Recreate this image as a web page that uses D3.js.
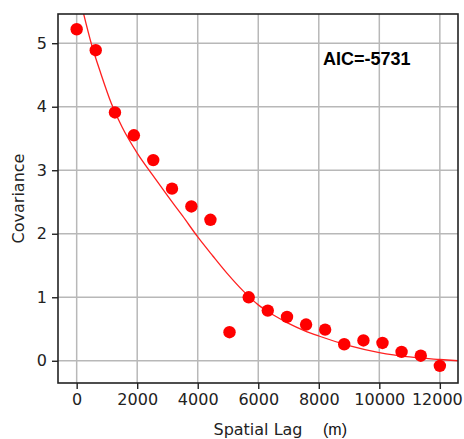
<!DOCTYPE html>
<html>
<head>
<meta charset="utf-8">
<script src="https://cdn.jsdelivr.net/npm/d3@7"></script>
<style>
  html, body { margin: 0; padding: 0; background: #fff; }
  svg { display: block; }
</style>
</head>
<body>
<svg id="chart" width="464" height="439"></svg>
<script>
// Empirical covariance points (spatial lag in m, covariance)
const lags = [0, 630, 1265, 1890, 2530, 3150, 3790, 4420, 5050, 5685,
              6315, 6950, 7580, 8210, 8840, 9475, 10105, 10735, 11370, 12000];
const covs = [5.22, 4.89, 3.91, 3.55, 3.16, 2.71, 2.43, 2.22, 0.45, 1.00,
              0.79, 0.69, 0.57, 0.49, 0.26, 0.32, 0.28, 0.14, 0.08, -0.08];

// Fitted model curve
const fitLags = [200, 480, 800, 1140, 1500, 2000, 2500, 3000, 3500, 4000, 4500, 5000,
                 5500, 6000, 6500, 7000, 7500, 8000, 9000, 10000, 11000, 12000, 12600];
const fitCovs = [5.52, 5.00, 4.52, 4.06, 3.68, 3.27, 2.93, 2.60, 2.28, 1.95, 1.65, 1.36,
                 1.10, 0.88, 0.72, 0.59, 0.48, 0.39, 0.24, 0.13, 0.06, 0.02, 0.00];

const xTicks = [0, 2000, 4000, 6000, 8000, 10000, 12000];
const yTicks = [0, 1, 2, 3, 4, 5];
const annotation = "AIC=-5731";

const svg = d3.select("#chart");
const L = 58, R = 458, T = 14, B = 383;

const x = d3.scaleLinear().domain([-617, 12600]).range([L, R]);
const y = d3.scaleLinear().domain([-0.35, 5.46]).range([B, T]);

svg.append("defs").append("clipPath").attr("id", "clip")
  .append("rect").attr("x", L).attr("y", T).attr("width", R - L).attr("height", B - T);

// grid
const grid = svg.append("g");
grid.selectAll(".gx").data(xTicks).enter().append("line")
  .attr("x1", d => x(d)).attr("x2", d => x(d)).attr("y1", T).attr("y2", B)
  .attr("stroke", "#b8b8b8").attr("stroke-width", 1.5);
grid.selectAll(".gy").data(yTicks).enter().append("line")
  .attr("y1", d => y(d)).attr("y2", d => y(d)).attr("x1", L).attr("x2", R)
  .attr("stroke", "#b8b8b8").attr("stroke-width", 1.5);

// fitted curve
const line = d3.line().x((d, i) => x(fitLags[i])).y(d => y(d)).curve(d3.curveMonotoneX);
svg.append("path").datum(fitCovs)
  .attr("clip-path", "url(#clip)")
  .attr("d", line).attr("fill", "none").attr("stroke", "#ff2020").attr("stroke-width", 1.3);

// points
svg.append("g").attr("clip-path", "url(#clip)")
  .selectAll("circle").data(covs).enter().append("circle")
  .attr("cx", (d, i) => x(lags[i])).attr("cy", d => y(d)).attr("r", 6.2)
  .attr("fill", "#ff0000");

// axes
const xAxis = d3.axisBottom(x).tickValues(xTicks).tickSize(6).tickPadding(5).tickFormat(d3.format("d"));
const yAxis = d3.axisLeft(y).tickValues(yTicks).tickSize(6).tickPadding(5).tickFormat(d3.format("d"));

const gx = svg.append("g").attr("transform", `translate(0,${B})`).call(xAxis);
const gy = svg.append("g").attr("transform", `translate(${L},0)`).call(yAxis);
[gx, gy].forEach(g => {
  g.select(".domain").remove();
  g.selectAll(".tick line").attr("stroke", "#222").attr("stroke-width", 1.4);
  g.selectAll(".tick text").attr("fill", "#222")
    .style("font-family", "'DejaVu Sans', sans-serif").style("font-size", "16px");
});
// keep the last x tick label inside the window
gx.selectAll(".tick text").filter(d => d === 12000).attr("dx", "-3");

// frame
svg.append("rect").attr("x", L).attr("y", T).attr("width", R - L).attr("height", B - T)
  .attr("fill", "none").attr("stroke", "#222").attr("stroke-width", 1.6);

// labels
svg.append("text").attr("x", 258).attr("y", 435).attr("text-anchor", "middle")
  .style("font-family", "'DejaVu Sans', sans-serif").style("font-size", "16px").attr("fill", "#222")
  .text("Spatial Lag");
svg.append("text").attr("x", 335).attr("y", 435).attr("text-anchor", "middle")
  .style("font-family", "'Liberation Sans', Arial, sans-serif").style("font-size", "16px").attr("fill", "#111")
  .text("(m)");
svg.append("text").attr("transform", "translate(24,198.5) rotate(-90)").attr("text-anchor", "middle")
  .style("font-family", "'DejaVu Sans', sans-serif").style("font-size", "16px").attr("fill", "#222")
  .text("Covariance");
svg.append("text").attr("x", 323).attr("y", 65)
  .style("font-family", "'Liberation Sans', Arial, sans-serif").style("font-size", "18px")
  .style("font-weight", "bold").attr("fill", "#000")
  .text(annotation);
</script>
</body>
</html>
